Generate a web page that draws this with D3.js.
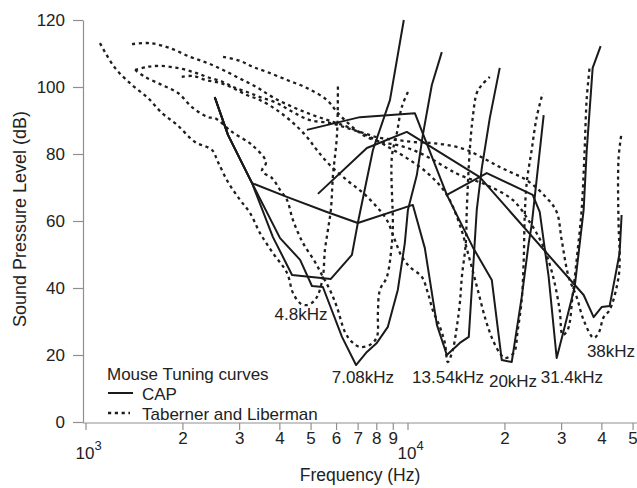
<!DOCTYPE html>
<html><head><meta charset="utf-8">
<script src="https://cdn.jsdelivr.net/npm/d3@7"></script>
<style>body{margin:0;background:#fff}svg{display:block}text{font-family:"Liberation Sans",Arial,sans-serif;fill:#222}</style>
</head><body><svg id="c" width="637" height="488"></svg>
<script>
// ---- data (frequency in kHz, level in dB SPL) ----
const capCF4_8 = [[2.52,97.0],[2.77,85.7],[3.29,71.3],[3.82,55.2],[4.38,43.9],[5.78,42.7],[6.72,49.9],[7.01,59.4],[7.81,81.2],[8.82,96.1],[9.74,120]];
const capCF7_08 = [[2.52,97.0],[2.77,85.7],[3.29,71.3],[4.02,54.9],[4.64,48.4],[5.05,40.6],[5.46,40.3],[6.26,25.4],[6.92,17.0],[7.48,20.9],[8.03,23.6],[8.69,28.4],[9.33,39.4],[9.81,53.4],[10.03,63.3],[10.69,73.7],[11.16,85.7],[11.90,100.6],[12.78,110.4]];
const capCF13_54 = [[2.52,97.0],[2.77,85.7],[3.29,71.3],[4.22,67.2],[5.62,62.7],[7.01,59.4],[10.39,64.8],[11.32,51.9],[12.34,29.0],[13.25,20.0],[14.54,23.6],[15.50,25.4],[16.41,63.3],[17.01,75.8],[18.01,90.7],[19.34,105.7]];
const capCF20 = [[4.87,87.2],[7.115,91.0],[10.54,92.2],[13.25,67.8],[15.95,52.2],[18.27,42.4],[19.62,18.5],[21.07,17.9],[22.63,37.3],[23.79,53.4],[24.30,58.8],[26.48,91.6]];
const capCF31_4 = [[13.25,67.8],[17.63,74.3],[24.48,67.8],[25.74,62.7],[27.44,43.3],[29.06,19.1],[30.77,28.4],[33.05,40.3],[35.24,63.3],[36.0,80.6],[37.59,105.7],[39.79,112.2]];
const capCF38 = [[5.27,68.1],[7.48,81.8],[9.95,86.6],[16.77,73.1],[20.62,63.3],[35.24,37.9],[37.85,31.3],[40.08,34.3],[42.43,34.6],[45.57,50.4],[46.23,61.8]];

const tlCF4_8 = [[1.109,113.1],[1.235,105.7],[1.395,100.6],[1.564,96.7],[1.729,92.2],[1.924,88.7],[2.188,83.6],[2.471,81.2],[2.579,77.6],[2.771,71.6],[3.019,66.3],[3.242,62.4],[3.483,56.4],[3.822,50.4],[4.224,44.5],[4.409,38.5],[4.635,35.5],[4.838,34.9],[5.086,35.8],[5.27,37.9],[5.46,43.3],[5.54,51.3],[5.66,57.3],[5.78,63.3],[5.87,73.7],[6.04,85.7],[6.08,100.6]];
const tlCF7_08 = [[1.425,105.1],[1.531,103.0],[1.729,100.6],[1.938,98.2],[2.141,94.0],[2.401,91.0],[2.524,90.7],[2.850,86.6],[3.289,82.7],[3.636,77.6],[3.533,74.9],[3.795,72.8],[4.018,69.3],[4.224,66.3],[4.408,60.3],[4.738,53.4],[5.159,47.8],[5.424,43.9],[5.743,39.4],[6.037,34.3],[6.392,26.9],[6.720,23.9],[7.115,22.4],[7.642,23.0],[8.034,25.4],[8.092,32.5],[8.208,39.4],[8.630,43.3],[8.943,53.4],[9.007,58.8],[8.943,79.1],[9.27,86.3],[9.60,94.0],[10.10,99.1]];
const tlCF13_54 = [[1.99,103.0],[2.16,103.3],[2.38,102.0],[2.62,101.2],[2.87,99.7],[3.17,97.6],[3.48,96.1],[3.93,93.1],[4.41,89.3],[4.87,85.1],[5.23,81.2],[5.74,76.7],[6.48,72.2],[7.27,68.4],[8.03,64.2],[8.63,60.3],[9.14,54.3],[9.61,49.3],[10.17,46.3],[11.08,43.3],[11.57,38.5],[11.98,33.4],[12.60,28.4],[13.06,23.6],[13.34,17.9],[13.82,21.5],[14.23,28.4],[14.54,35.5],[14.75,43.3],[15.17,53.4],[15.28,63.3],[15.61,81.2],[15.95,91.0],[16.41,98.2],[17.01,100.6],[18.01,103.0]];
const tlCF20 = [[1.395,112.8],[1.586,113.1],[1.830,111.6],[2.111,109.0],[2.384,107.2],[2.674,105.1],[3.019,102.5],[3.408,99.9],[3.822,96.9],[4.41,94.0],[5.09,91.6],[5.87,89.6],[6.63,87.8],[7.64,85.1],[8.82,81.8],[10.17,78.2],[11.73,73.7],[13.25,67.8],[14.54,58.8],[15.61,48.4],[16.53,39.4],[17.50,30.4],[18.40,24.5],[19.34,20.6],[20.05,19.1],[21.37,20.6],[22.0,27.5],[22.63,36.4],[22.96,48.4],[23.12,61.2],[23.45,71.3],[24.30,81.2],[25.19,91.0],[26.30,98.2]];
const tlCF31_4 = [[2.674,109.0],[3.019,107.8],[3.312,106.0],[3.661,104.5],[4.224,102.1],[4.87,99.7],[5.62,96.1],[6.08,92.2],[6.63,88.7],[7.27,85.7],[8.21,83.6],[9.27,82.7],[10.39,81.2],[11.73,78.8],[13.25,75.8],[14.54,73.7],[17.63,70.7],[21.22,66.3],[23.96,59.7],[26.30,52.8],[28.24,43.9],[29.69,33.4],[30.33,26.0],[31.44,27.5],[32.58,37.9],[33.77,51.3],[34.74,63.3],[35.49,81.2],[36.0,96.1],[36.79,106.0]];
const tlCF38 = [[1.425,105.1],[1.553,106.0],[1.704,106.3],[1.924,105.7],[2.157,104.5],[2.384,103.0],[2.674,101.5],[2.871,100.0],[3.174,98.5],[3.483,97.0],[3.933,95.2],[4.41,92.5],[4.98,90.1],[5.74,89.3],[6.48,87.8],[7.27,86.3],[8.21,84.8],[9.27,84.2],[10.39,83.6],[11.73,83.3],[13.25,82.7],[15.28,81.2],[17.63,78.2],[19.34,76.1],[21.22,74.3],[23.45,72.2],[27.05,66.9],[29.06,62.7],[30.12,54.3],[31.66,43.3],[33.53,37.3],[35.24,30.4],[37.85,25.1],[39.23,26.6],[40.66,31.3],[42.43,33.4],[45.24,43.3],[45.57,50.4],[45.24,58.8],[45.24,78.8],[46.23,86.3]];

const capCurves = [capCF4_8, capCF7_08, capCF13_54, capCF20, capCF31_4, capCF38];
const tlCurves = [tlCF4_8, tlCF7_08, tlCF13_54, tlCF20, tlCF31_4, tlCF38];

const cfLabels = ["4.8kHz","7.08kHz","13.54kHz","20kHz","31.4kHz","38kHz"];
const cfLabelPos = [[4.67,30.4],[7.27,11.6],[13.36,11.6],[21.27,10.4],[32.4,11.6],[42.85,19.4]]; // kHz, dB (centre, baseline)

const yTicks = [0,20,40,60,80,100,120];
const xTicks = [1000,2000,3000,4000,5000,6000,7000,8000,9000,10000,20000,30000,40000,50000];
const xTickLabels = ["10|3","2","3","4","5","6","7","8","9","10|4","2","3","4","5"];

const legendTitle = "Mouse Tuning curves";
const legendItems = ["CAP","Taberner and Liberman"];

// ---- chart ----
const svg = d3.select("#c");
const x = d3.scaleLog().domain([1000,50000]).range([85.5, 85.5+322*Math.log10(50)]);
const y = d3.scaleLinear().domain([0,120]).range([422,20]);
const axisCol = "#8f8f8f";
const FF = "'Liberation Sans',Arial,sans-serif";

// y axis
const ya = svg.append("g").attr("transform","translate(83,0)")
  .call(d3.axisLeft(y).tickValues(yTicks).tickSize(10).tickSizeOuter(0).tickPadding(8));
ya.select(".domain").attr("stroke",axisCol).attr("stroke-width",1.2);
ya.selectAll(".tick line").attr("stroke",axisCol).attr("stroke-width",1.2);
ya.selectAll(".tick text").attr("font-size",17).attr("fill","#222").style("font-family",FF);

// x axis
const xa = svg.append("g").attr("transform","translate(0,423)")
  .call(d3.axisBottom(x).tickValues(xTicks).tickSize(7).tickSizeOuter(0).tickPadding(2).tickFormat((d,i)=>xTickLabels[i].includes("|")?"":xTickLabels[i]));
xa.select(".domain").remove();
xa.append("line").attr("x1",83).attr("x2",637).attr("y1",0).attr("y2",0).attr("stroke",axisCol).attr("stroke-width",1.2);
xa.selectAll(".tick line").attr("stroke",axisCol).attr("stroke-width",1.2);
xa.selectAll(".tick text").attr("font-size",17).attr("fill","#222").style("font-family",FF);
xTicks.forEach((v,i)=>{
  const lab = xTickLabels[i];
  if(!lab.includes("|")) return;
  const [b,e] = lab.split("|");
  const t = svg.append("text").attr("x",x(v)-10).attr("y",459).attr("font-size",17);
  t.append("tspan").text(b);
  t.append("tspan").attr("dy",-9).attr("font-size",13).text(e);
});

// axis titles
svg.append("text").attr("x",360).attr("y",481).attr("text-anchor","middle").attr("font-size",17.5).text("Frequency (Hz)");
svg.append("text").attr("transform","translate(26,219) rotate(-90)").attr("text-anchor","middle").attr("font-size",18).text("Sound Pressure Level (dB)");

// curves
const line = d3.line().x(d=>x(d[0]*1000)).y(d=>y(d[1]));
const dline = d3.line().x(d=>x(d[0]*1000)).y(d=>y(d[1])).curve(d3.curveCatmullRom.alpha(0.5));
svg.append("g").selectAll("path").data(tlCurves).join("path")
  .attr("d",dline).attr("fill","none").attr("stroke","#1e1e1e").attr("stroke-width",2.3)
  .attr("stroke-dasharray","3.2,3.6");
svg.append("g").selectAll("path").data(capCurves).join("path")
  .attr("d",line).attr("fill","none").attr("stroke","#1a1a1a").attr("stroke-width",2)
  .attr("stroke-linejoin","round");

// CF labels
svg.append("g").selectAll("text").data(cfLabels).join("text")
  .attr("x",(d,i)=>x(cfLabelPos[i][0]*1000)).attr("y",(d,i)=>y(cfLabelPos[i][1]))
  .attr("text-anchor","middle").attr("font-size",17).text(d=>d);

// legend
const lg = svg.append("g");
lg.append("text").attr("x",107).attr("y",380).attr("font-size",17).text(legendTitle);
lg.append("line").attr("x1",108).attr("x2",133).attr("y1",393).attr("y2",393).attr("stroke","#1a1a1a").attr("stroke-width",2);
lg.append("text").attr("x",142).attr("y",400).attr("font-size",17).text(legendItems[0]);
lg.append("line").attr("x1",108).attr("x2",130).attr("y1",413).attr("y2",413).attr("stroke","#1e1e1e").attr("stroke-width",2.3).attr("stroke-dasharray","3.2,3.6");
lg.append("text").attr("x",142).attr("y",420).attr("font-size",17).text(legendItems[1]);
</script></body></html>
